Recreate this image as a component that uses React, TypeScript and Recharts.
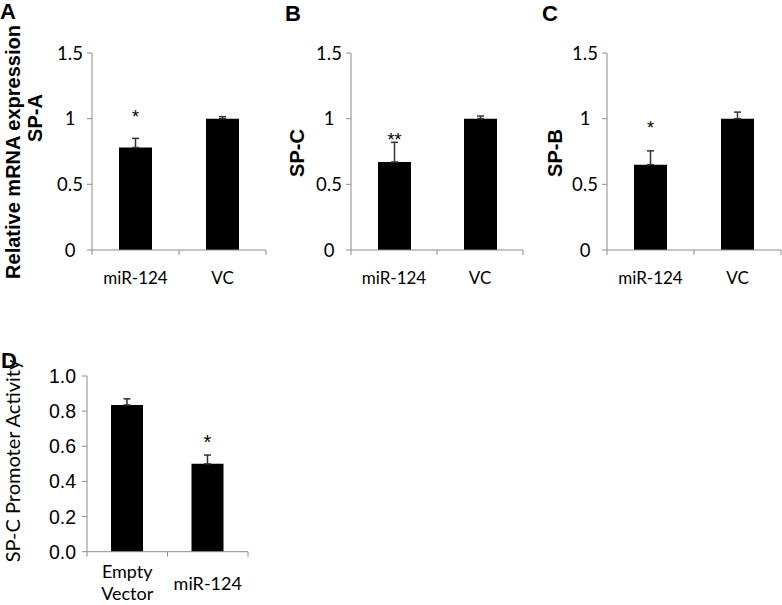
import React from 'react';
import { BarChart, Bar, XAxis, YAxis, ErrorBar, LabelList } from 'recharts';

const W = 782;
const H = 605;

// panel A-C categories
const topGroups = ['miR-124', 'VC'];

const spaMean = [0.78, 1.0];
const spaErr = [0.07, 0.015];
const spaStar = ['*', ''];
const spaStarAt = [0.965, null];

const spcMean = [0.67, 1.0];
const spcErr = [0.15, 0.02];
const spcStar = ['**', ''];
const spcStarAt = [0.79, null];

const spbMean = [0.65, 1.0];
const spbErr = [0.105, 0.05];
const spbStar = ['*', ''];
const spbStarAt = [0.885, null];

const topTicks = [0, 0.5, 1, 1.5];

// panel D
const promoterGroups = ['Empty\nVector', 'miR-124'];
const promoterMean = [0.835, 0.5];
const promoterErr = [0.035, 0.05];
const promoterStar = ['', '*'];
const promoterStarAt = [null, 0.585];
const promoterTicks = [0, 0.2, 0.4, 0.6, 0.8, 1.0];

// only the upper whisker shows in the figure
const build = (groups, mean, err, star, starAt) =>
    groups.map((g, i) => ({ name: g, mean: mean[i], err: [0, err[i]], star: star[i], starAt: starAt[i] }));

const AXIS = '#8c8c8c';
const CALIBRI = 'Lato, "Open Sans", sans-serif';
const ARIAL = '"Liberation Sans", Arial, sans-serif';

function Panel({ data, ticks, domain, box, barSize, tickFont, tickSize, xFont, xSize, xBase, yAlign, starFont, starSize, fmt }) {
    const [left, top, right, bottom] = box;
    const yW = 40;
    const xH = 40;
    const band = (right - left) / data.length;

    const xTick = (p) => {
        const { x, y, payload, index } = p;
        const lines = String(payload.value).split('\n');
        const bx = x - band / 2;
        return (
            <g>
                <line x1={bx} y1={y} x2={bx} y2={y + 5} stroke={AXIS} />
                {index === data.length - 1 && <line x1={x + band / 2} y1={y} x2={x + band / 2} y2={y + 5} stroke={AXIS} />}
                <text x={x} y={y + (lines.length > 1 ? xBase[1] : xBase[0])} textAnchor="middle" fontFamily={xFont} fontSize={xSize} fill="#000">
                    {lines.map((l, i) => (
                        <tspan key={i} x={x} dy={i === 0 ? 0 : xSize * 1.2}>{l}</tspan>
                    ))}
                </text>
            </g>
        );
    };

    const yTick = (p) => {
        const { y, payload } = p;
        const label = fmt ? fmt(payload.value) : String(payload.value);
        return (
            <text
                x={yAlign === 'middle' ? left - 22 : left - 11}
                y={y}
                dy="0.36em"
                textAnchor={yAlign}
                fontFamily={tickFont}
                fontSize={tickSize}
                fill="#000"
            >
                {label}
            </text>
        );
    };

    const starLabel = (p) => {
        const { x, y, width, height, index } = p;
        const d = data[index];
        if (!d || !d.star) return null;
        const base = Number(y) + Number(height);
        const sy = base - (d.starAt * Number(height)) / d.mean;
        return (
            <text x={Number(x) + Number(width) / 2} y={sy} textAnchor="middle" fontFamily={starFont} fontSize={starSize} fill="#000">
                {d.star}
            </text>
        );
    };

    return (
        <div style={{ position: 'absolute', left: 0, top: 0 }}>
            <BarChart
                width={W}
                height={H}
                data={data}
                margin={{ left: left - yW, top, right: W - right, bottom: H - bottom - xH }}
                barCategoryGap={0}
            >
                <XAxis
                    dataKey="name"
                    height={xH}
                    axisLine={{ stroke: AXIS }}
                    tickLine={false}
                    tickSize={0}
                    tickMargin={0}
                    tick={xTick}
                    interval={0}
                />
                <YAxis
                    width={yW}
                    domain={domain}
                    ticks={ticks}
                    axisLine={{ stroke: AXIS }}
                    tickLine={{ stroke: AXIS }}
                    tickSize={5}
                    tick={yTick}
                    interval={0}
                />
                <Bar dataKey="mean" fill="#000" barSize={barSize} isAnimationActive={false}>
                    <ErrorBar dataKey="err" width={3.5} stroke="#333" strokeWidth={1.5} />
                    <LabelList dataKey="star" content={starLabel} />
                </Bar>
            </BarChart>
        </div>
    );
}

export default function App() {
    const spa = build(topGroups, spaMean, spaErr, spaStar, spaStarAt);
    const spc = build(topGroups, spcMean, spcErr, spcStar, spcStarAt);
    const spb = build(topGroups, spbMean, spbErr, spbStar, spbStarAt);
    const promoter = build(promoterGroups, promoterMean, promoterErr, promoterStar, promoterStarAt);

    const top = {
        ticks: topTicks, domain: [0, 1.5], barSize: 33, tickFont: CALIBRI, tickSize: 18.5,
        xFont: CALIBRI, xSize: 17, xBase: [34, 30], yAlign: 'middle', starFont: ARIAL, starSize: 18,
    };

    return (
        <div style={{ position: 'absolute', left: 0, top: 0, width: W, height: H, background: '#fff', overflow: 'hidden' }}>
            <Panel data={spa} box={[92, 53, 266, 250]} {...top} />
            <Panel data={spc} box={[351, 53, 523, 250]} {...top} />
            <Panel data={spb} box={[607, 53, 781, 250]} {...top} />
            <Panel
                data={promoter}
                box={[87, 376, 248, 551.7]}
                ticks={promoterTicks}
                domain={[0, 1]}
                barSize={32}
                tickFont={ARIAL}
                tickSize={19.5}
                xFont={CALIBRI}
                xSize={18}
                xBase={[38, 26.5]}
                yAlign="end"
                starFont={ARIAL}
                starSize={20}
                fmt={(v) => v.toFixed(1)}
            />
            <svg width={W} height={H} style={{ position: 'absolute', left: 0, top: 0, pointerEvents: 'none' }}>
                <g fontFamily={ARIAL} fontWeight="bold" fontSize={22} fill="#000">
                    <text x={0} y={19}>A</text>
                    <text x={285} y={21}>B</text>
                    <text x={542} y={21}>C</text>
                    <text x={1} y={368}>D</text>
                </g>
                <g fontFamily={ARIAL} fontWeight="bold" fontSize={20} fill="#000" textAnchor="middle" dominantBaseline="central">
                    <text transform="translate(13,152) rotate(-90)">Relative mRNA expression</text>
                    <text transform="translate(35,118) rotate(-90)">SP-A</text>
                    <text transform="translate(297,153) rotate(-90)">SP-C</text>
                    <text transform="translate(555,153) rotate(-90)">SP-B</text>
                </g>
                <text transform="translate(12,461) rotate(-90)" fontFamily={CALIBRI} fontSize={20} textAnchor="middle" dominantBaseline="central" fill="#000">
                    SP-C Promoter Activity
                </text>
            </svg>
        </div>
    );
}
